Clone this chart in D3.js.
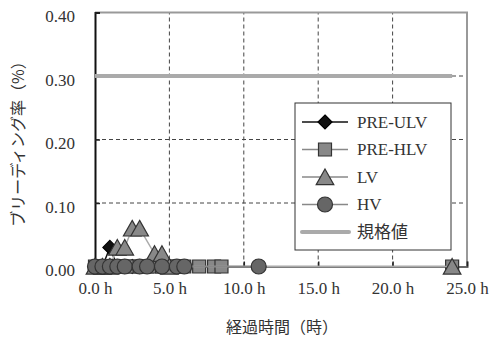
<!DOCTYPE html>
<html lang="ja">
<head>
  <meta charset="UTF-8">
  <title>ブリーディング率</title>
  <script src="https://d3js.org/d3.v7.min.js"></script>
  <style>
    body { margin: 0; padding: 0; background: #fff; }
    text { font-family: "Liberation Serif", "Noto Sans CJK JP", serif; font-size: 17px; fill: #333; }
    .jp { font-family: "Noto Sans CJK JP", sans-serif; font-size: 16px; fill: #333; }
    .grid { stroke: #444; stroke-width: 1; stroke-dasharray: 4,3; }
  </style>
</head>
<body>
  <div id="chart"></div>
  <script>
    // 経過時間 (h) と ブリーディング率 (%)
    const uLvTime  = [0, 0.5, 1, 1.5, 2, 2.5, 3];
    const uLvValue = [0, 0, 0.03, 0, 0, 0, 0];

    const hLvTime  = [0, 0.5, 1, 1.5, 2, 2.5, 3, 3.5, 4, 4.5, 5, 5.5, 6, 7, 8, 8.5, 24];
    const hLvValue = [0, 0, 0, 0, 0, 0, 0, 0, 0, 0, 0, 0, 0, 0, 0, 0, 0];

    const lvTime   = [0, 0.5, 1, 1.5, 2, 2.5, 3, 4, 4.5, 5, 24];
    const lvValue  = [0, 0, 0, 0.03, 0.03, 0.06, 0.06, 0.02, 0.02, 0, 0];

    const hvTime   = [0, 0.5, 1, 1.5, 2, 3, 3.5, 4.5, 5.5, 6, 11];
    const hvValue  = [0, 0, 0, 0, 0, 0, 0, 0, 0, 0, 0];

    const specTime  = [0, 24];
    const specValue = [0.3, 0.3];

    const xTicks = [0, 5, 10, 15, 20, 25];
    const yTicks = [0, 0.1, 0.2, 0.3, 0.4];
    const seriesNames = ["PRE-ULV", "PRE-HLV", "LV", "HV", "規格値"];

    const width = 490, height = 340;
    const x = d3.scaleLinear().domain([0, 25]).range([95, 467]);
    const y = d3.scaleLinear().domain([0, 0.4]).range([266.5, 12.5]);

    const svg = d3.select("#chart").append("svg")
      .attr("width", width)
      .attr("height", height);

    // grid
    svg.append("g").selectAll("line")
      .data(yTicks.filter(d => d > 0 && d < 0.4))
      .join("line")
      .attr("class", "grid")
      .attr("x1", x(0)).attr("x2", x(25))
      .attr("y1", d => y(d)).attr("y2", d => y(d));
    svg.append("g").selectAll("line")
      .data(xTicks.filter(d => d > 0 && d < 25))
      .join("line")
      .attr("class", "grid")
      .attr("y1", y(0)).attr("y2", y(0.4))
      .attr("x1", d => x(d)).attr("x2", d => x(d));

    // frame top / right
    svg.append("path")
      .attr("d", `M${x(0)},${y(0.4)}H${x(25)}V${y(0)}`)
      .attr("fill", "none").attr("stroke", "#999").attr("stroke-width", 2);

    // axes
    const xAxis = d3.axisBottom(x).tickValues(xTicks).tickSize(-5).tickFormat(d => d3.format(".1f")(d) + " h");
    const gx = svg.append("g").attr("transform", `translate(0,${y(0)})`).call(xAxis);
    gx.select(".domain").attr("stroke", "#666").attr("stroke-width", 2);
    gx.selectAll(".tick line").attr("stroke", "#222").attr("stroke-width", 1.5);
    gx.selectAll(".tick text").attr("y", 22).attr("dy", "0.35em")
      .style("font-family", "Liberation Serif").style("font-size", "17px").attr("fill", "#333");

    const yAxis = d3.axisLeft(y).tickValues(yTicks).tickSize(-5).tickFormat(d3.format(".2f"));
    const gy = svg.append("g").attr("transform", `translate(${x(0)},0)`).call(yAxis);
    gy.select(".domain").attr("stroke", "#111").attr("stroke-width", 2);
    gy.selectAll(".tick line").attr("stroke", "#222").attr("stroke-width", 1.5);
    gy.selectAll(".tick text").attr("x", -20).attr("dy", "0.55em")
      .style("font-family", "Liberation Serif").style("font-size", "17px").attr("fill", "#333");

    // markers
    const shapes = {
      diamond: s => `M0,${-s}L${s},0L0,${s}L${-s},0Z`,
      square: s => `M${-s},${-s}H${s}V${s}H${-s}Z`,
      triangle: s => `M0,${-s}L${s * 1.1},${s * 0.95}H${-s * 1.1}Z`,
      circle: s => `M${-s},0A${s},${s} 0 1,0 ${s},0A${s},${s} 0 1,0 ${-s},0Z`
    };

    const series = [
      { t: uLvTime, v: uLvValue, line: "#111", shape: "diamond", size: 7, fill: "#111", stroke: "#000" },
      { t: hLvTime, v: hLvValue, line: "#888", shape: "square", size: 6.5, fill: "#888", stroke: "#333" },
      { t: lvTime, v: lvValue, line: "#aaa", shape: "triangle", size: 8, fill: "#888", stroke: "#333" },
      { t: hvTime, v: hvValue, line: "#888", shape: "circle", size: 7.5, fill: "#666", stroke: "#333" }
    ];

    const line = d3.line().x(d => x(d[0])).y(d => y(d[1]));

    // 規格値
    svg.append("path")
      .datum(specTime.map((t, i) => [t, specValue[i]]))
      .attr("d", line)
      .attr("fill", "none").attr("stroke", "#aaa").attr("stroke-width", 4);

    series.forEach(s => {
      const pts = s.t.map((t, i) => [t, s.v[i]]);
      const g = svg.append("g");
      g.append("path").datum(pts).attr("d", line)
        .attr("fill", "none").attr("stroke", s.line).attr("stroke-width", 1.5);
      g.selectAll("path.m").data(pts).join("path")
        .attr("class", "m")
        .attr("transform", d => `translate(${x(d[0])},${y(d[1])})`)
        .attr("d", shapes[s.shape](s.size))
        .attr("fill", s.fill).attr("stroke", s.stroke).attr("stroke-width", 1.2);
    });

    // legend
    const lg = svg.append("g");
    lg.append("rect")
      .attr("x", 295).attr("y", 103).attr("width", 156).attr("height", 147)
      .attr("fill", "#fff").attr("stroke", "#333").attr("stroke-width", 1);
    seriesNames.forEach((name, i) => {
      const ly = 122 + i * 27.5;
      const row = lg.append("g").attr("transform", `translate(0,${ly})`);
      if (i < 4) {
        const s = series[i];
        row.append("line").attr("x1", 302).attr("x2", 348)
          .attr("stroke", s.line === "#aaa" ? "#888" : s.line).attr("stroke-width", 1.5);
        row.append("path").attr("transform", "translate(325,0)")
          .attr("d", shapes[s.shape](s.size))
          .attr("fill", s.fill).attr("stroke", s.stroke).attr("stroke-width", 1.2);
        row.append("text").attr("x", 357).attr("dy", "0.35em").text(name);
      } else {
        row.append("line").attr("x1", 302).attr("x2", 349)
          .attr("stroke", "#aaa").attr("stroke-width", 4).attr("stroke-linecap", "round");
        row.append("text").attr("class", "jp").attr("x", 357).attr("dy", "0.35em")
          .style("font-size", "17px").text(name);
      }
    });

    // axis titles
    svg.append("text").attr("class", "jp")
      .attr("x", 282).attr("y", 327).attr("dy", "0.35em")
      .attr("text-anchor", "middle").text("経過時間（時）");
    svg.append("text").attr("class", "jp")
      .attr("transform", "translate(18,140) rotate(-90)")
      .attr("dy", "0.35em")
      .attr("text-anchor", "middle").text("ブリーディング率（%）");
  </script>
</body>
</html>
